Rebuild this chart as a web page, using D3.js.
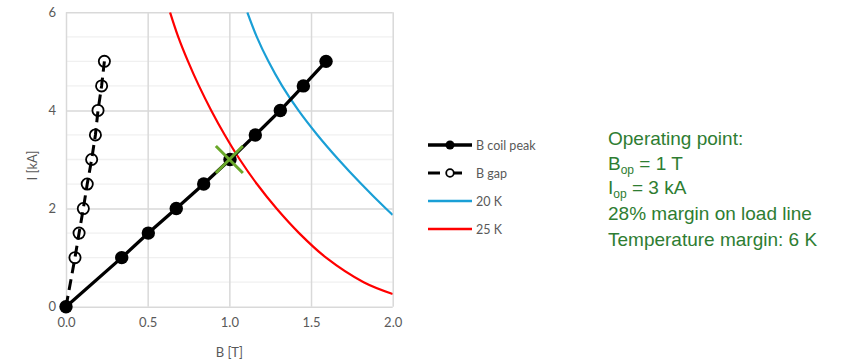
<!DOCTYPE html>
<html>
<head>
<meta charset="utf-8">
<script src="https://cdn.jsdelivr.net/npm/d3@7"></script>
<style>
  html, body { margin: 0; padding: 0; background: #fff; }
  svg { display: block; }
</style>
</head>
<body>
<svg id="chart" width="843" height="363"></svg>
<script>
// Current levels of the measured points [kA]
const currentLevels = [0, 1, 1.5, 2, 2.5, 3, 3.5, 4, 4.5, 5];
// Peak field on the coil [T]
const bCoilPeak = [0, 0.341, 0.504, 0.675, 0.843, 1.004, 1.159, 1.312, 1.453, 1.592];
// Field in the gap [T]
const bGap = [0, 0.055, 0.080, 0.106, 0.130, 0.157, 0.180, 0.196, 0.218, 0.235];

// Critical current curves [B in T, I in kA]
const crit20K_I = [6.0, 5.5, 5.0, 4.5, 4.0, 3.5, 3.0, 2.5, 2.0, 1.87];
const crit20K_B = [1.11, 1.168, 1.239, 1.323, 1.423, 1.539, 1.668, 1.808, 1.958, 2.0];
const crit25K_I = [6.0, 5.5, 5.0, 4.5, 4.0, 3.5, 3.0, 2.5, 2.0, 1.5, 1.0, 0.5, 0.26];
const crit25K_B = [0.637, 0.687, 0.747, 0.814, 0.889, 0.972, 1.064, 1.169, 1.289, 1.427, 1.592, 1.822, 2.0];

// Operating point
const opB = 1.0, opI = 3.0;

const xTicks = [0, 0.5, 1.0, 1.5, 2.0];
const yTicks = [0, 2, 4, 6];
const yMinor = [0.5, 1, 1.5, 2.5, 3, 3.5, 4.5, 5, 5.5];

const legendLabels = ["B coil peak", "B gap", "20 K", "25 K"];
const noteLines = ["Operating point:", "B|op| = 1 T", "I|op| = 3 kA", "28% margin on load line", "Temperature margin: 6 K"];

const svg = d3.select("#chart");
const plot = { left: 66, right: 392.7, top: 12.3, bottom: 306.7 };

const x = d3.scaleLinear().domain([0, 2]).range([plot.left, plot.right]);
const y = d3.scaleLinear().domain([0, 6]).range([plot.bottom, plot.top]);

const axisGrey = "#595959";
const font = "Lato, 'Open Sans', sans-serif";

svg.append("defs").append("clipPath").attr("id", "plotClip")
  .append("rect")
  .attr("x", plot.left).attr("y", plot.top)
  .attr("width", plot.right - plot.left).attr("height", plot.bottom - plot.top);

// Minor horizontal gridlines
svg.append("g").selectAll("line").data(yMinor).join("line")
  .attr("x1", plot.left).attr("x2", plot.right)
  .attr("y1", d => y(d)).attr("y2", d => y(d))
  .attr("stroke", "#f0f0f0").attr("stroke-width", 1.3);

// Major gridlines via axes
svg.append("g")
  .attr("transform", `translate(0,${plot.bottom})`)
  .call(d3.axisBottom(x).tickValues(xTicks).tickFormat(d3.format(".1f"))
        .tickSize(-(plot.bottom - plot.top)).tickPadding(11))
  .call(g => g.select(".domain").remove())
  .call(g => g.selectAll(".tick line").attr("stroke", "#d9d9d9").attr("stroke-width", 1.5))
  .call(g => g.selectAll("text").attr("fill", axisGrey).attr("font-size", 13).attr("font-family", font));

svg.append("g")
  .attr("transform", `translate(${plot.left},0)`)
  .call(d3.axisLeft(y).tickValues(yTicks).tickFormat(d3.format("d"))
        .tickSize(-(plot.right - plot.left)).tickPadding(10))
  .call(g => g.select(".domain").remove())
  .call(g => g.selectAll(".tick line").attr("stroke", "#d9d9d9").attr("stroke-width", 1.5))
  .call(g => g.selectAll("text").attr("fill", axisGrey).attr("font-size", 13).attr("font-family", font));

// Axis titles
svg.append("text")
  .attr("x", (plot.left + plot.right) / 2).attr("y", 357)
  .attr("text-anchor", "middle").attr("fill", axisGrey)
  .attr("font-size", 13).attr("font-family", font)
  .text("B [T]");

svg.append("text")
  .attr("transform", `translate(37,${(plot.top + plot.bottom) / 2 + 6}) rotate(-90)`)
  .attr("text-anchor", "middle").attr("fill", axisGrey)
  .attr("font-size", 13).attr("font-family", font)
  .text("I [kA]");

const curves = svg.append("g").attr("clip-path", "url(#plotClip)");

const critLine = d3.line().x(d => x(d[0])).y(d => y(d[1])).curve(d3.curveCatmullRom.alpha(0.5));

curves.append("path")
  .datum(crit25K_B.map((b, i) => [b, crit25K_I[i]]))
  .attr("d", critLine).attr("fill", "none")
  .attr("stroke", "#ff0000").attr("stroke-width", 2.2);

curves.append("path")
  .datum(crit20K_B.map((b, i) => [b, crit20K_I[i]]))
  .attr("d", critLine).attr("fill", "none")
  .attr("stroke", "#1a9fd6").attr("stroke-width", 2.2);

const straight = d3.line().x(d => x(d[0])).y(d => y(d[1]));

// B gap: open markers under a dashed line
const gapPts = bGap.map((b, i) => [b, currentLevels[i]]);
svg.append("g").selectAll("circle").data(gapPts.slice(1)).join("circle")
  .attr("cx", d => x(d[0])).attr("cy", d => y(d[1])).attr("r", 5.6)
  .attr("fill", "#fff").attr("stroke", "#000").attr("stroke-width", 1.8);
svg.append("path").datum(gapPts)
  .attr("d", straight).attr("fill", "none")
  .attr("stroke", "#000").attr("stroke-width", 3)
  .attr("stroke-dasharray", "11,6");

// B coil peak: solid line with filled markers
const coilPts = bCoilPeak.map((b, i) => [b, currentLevels[i]]);
svg.append("path").datum(coilPts)
  .attr("d", straight).attr("fill", "none")
  .attr("stroke", "#000").attr("stroke-width", 3.3);
svg.append("g").selectAll("circle").data(coilPts).join("circle")
  .attr("cx", d => x(d[0])).attr("cy", d => y(d[1])).attr("r", 6.7)
  .attr("fill", "#000");

// Operating point cross
const cx = x(opB), cy = y(opI), h = 13.5;
svg.append("path")
  .attr("d", `M${cx - h},${cy - h}L${cx + h},${cy + h}M${cx + h},${cy - h}L${cx - h},${cy + h}`)
  .attr("stroke", "#6aa82a").attr("stroke-width", 3).attr("fill", "none");

// Legend
const legend = svg.append("g").attr("font-family", font).attr("font-size", 12.5).attr("fill", axisGrey);
const rowY = [145, 173, 201, 229];
const lx0 = 428, lx1 = 472;

// B coil peak entry
legend.append("line").attr("x1", lx0).attr("x2", lx1).attr("y1", rowY[0]).attr("y2", rowY[0])
  .attr("stroke", "#000").attr("stroke-width", 3.3);
legend.append("circle").attr("cx", 450).attr("cy", rowY[0]).attr("r", 4.5).attr("fill", "#000");
// B gap entry
legend.append("line").attr("x1", lx0).attr("x2", 440).attr("y1", rowY[1]).attr("y2", rowY[1])
  .attr("stroke", "#000").attr("stroke-width", 3);
legend.append("line").attr("x1", 453).attr("x2", 462).attr("y1", rowY[1]).attr("y2", rowY[1])
  .attr("stroke", "#000").attr("stroke-width", 3);
legend.append("circle").attr("cx", 450).attr("cy", rowY[1]).attr("r", 3.8)
  .attr("fill", "#fff").attr("stroke", "#000").attr("stroke-width", 1.8);
// Critical curves
legend.append("line").attr("x1", lx0).attr("x2", lx1).attr("y1", rowY[2]).attr("y2", rowY[2])
  .attr("stroke", "#1a9fd6").attr("stroke-width", 2.4);
legend.append("line").attr("x1", lx0).attr("x2", lx1).attr("y1", rowY[3]).attr("y2", rowY[3])
  .attr("stroke", "#ff0000").attr("stroke-width", 2.4);

legend.selectAll("text").data(legendLabels).join("text")
  .attr("x", 476).attr("y", (d, i) => rowY[i] + 4.5)
  .text(d => d);

// Operating point notes
const notes = svg.append("g").attr("font-family", "'Liberation Sans', Arial, sans-serif")
  .attr("font-size", 19).attr("fill", "#2e7d32");
const noteY = [145, 169.5, 194, 220, 246];
noteLines.forEach((line, i) => {
  const t = notes.append("text").attr("x", 608).attr("y", noteY[i]);
  const parts = line.split("|");
  parts.forEach((p, j) => {
    if (j % 2 === 1) {
      t.append("tspan").attr("font-size", 12).attr("dy", 4).text(p);
    } else {
      t.append("tspan").attr("dy", j > 0 ? -4 : 0).text(p);
    }
  });
});
</script>
</body>
</html>
